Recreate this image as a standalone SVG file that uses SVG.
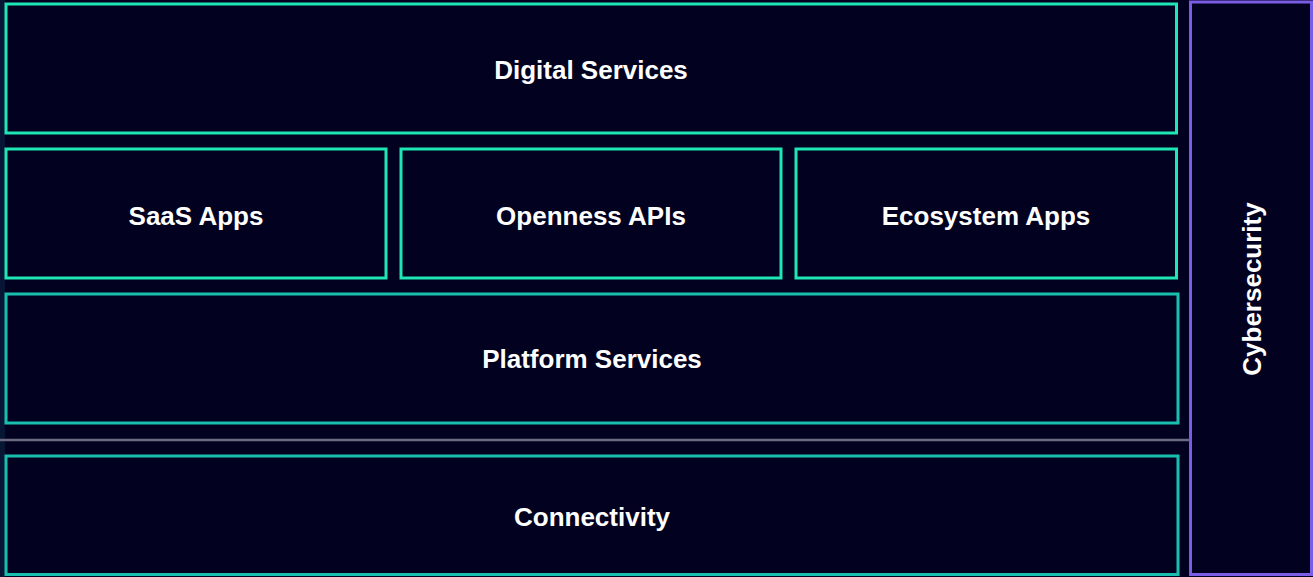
<svg xmlns="http://www.w3.org/2000/svg" width="1313" height="577" viewBox="0 0 1313 577">
<style>
.box{fill:#020220;stroke-width:3}
.g{stroke:#1ee6b4}
.t{stroke:#19bfae}
.p{stroke:#7b5ce6}
.lbl{font-family:"Liberation Sans",Arial,sans-serif;font-weight:bold;font-size:26px;fill:#ffffff;text-anchor:middle}
</style>
<rect x="0" y="0" width="1313" height="577" fill="#020220"/>
<rect x="0" y="0" width="5" height="577" fill="#061634"/>
<g id="cybersecurity">
<rect class="box p" x="1190.5" y="2" width="121" height="572.5"/>
<text class="lbl" transform="translate(1252,289) rotate(-90)" x="0" y="9">Cybersecurity</text>
</g>
<g id="digital-services">
<rect class="box g" x="6" y="4" width="1170.5" height="129"/>
<text class="lbl" x="591" y="79">Digital Services</text>
</g>
<g id="saas-apps">
<rect class="box g" x="6" y="149" width="380" height="129"/>
<text class="lbl" x="196" y="225">SaaS Apps</text>
</g>
<g id="openness-apis">
<rect class="box g" x="401" y="149" width="380" height="129"/>
<text class="lbl" x="591" y="225">Openness APIs</text>
</g>
<g id="ecosystem-apps">
<rect class="box g" x="796" y="149" width="380.5" height="129"/>
<text class="lbl" x="986" y="225">Ecosystem Apps</text>
</g>
<g id="platform-services">
<rect class="box t" x="6" y="294" width="1172" height="129"/>
<text class="lbl" x="592" y="368">Platform Services</text>
</g>
<g id="connectors">
<line x1="0" y1="440" x2="1190" y2="440" stroke="#6b6a80" stroke-width="2.5"/>
</g>
<g id="connectivity">
<rect class="box t" x="6" y="456" width="1172" height="118.5"/>
<text class="lbl" x="592" y="526">Connectivity</text>
</g>
</svg>
